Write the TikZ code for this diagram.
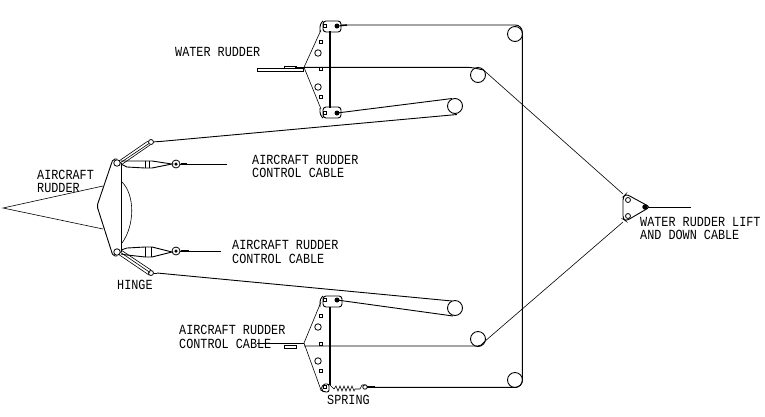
\documentclass[tikz,border=0pt]{standalone}
\usepackage{fontspec}
\usepackage{graphicx}
\setmonofont{Liberation Mono}
\newcommand{\lbtxt}[1]{\scalebox{1}[1.18]{#1}}
\begin{document}
\begin{tikzpicture}[x=1pt,y=-1pt,
  line/.style={draw=black,line width=0.9pt},
  thin line/.style={draw=black,line width=0.6pt},
  heavy/.style={draw=black,line width=1.8pt},
  pulley/.style={circle,draw=black,line width=0.9pt,minimum size=15pt,inner sep=0pt,outer sep=0pt},
  bigpulley/.style={pulley,minimum size=15pt},
  pin/.style={circle,draw=black,line width=0.8pt,minimum size=6.5pt,inner sep=0pt},
  dark/.style={circle,fill=black,minimum size=5pt,inner sep=0pt},
  sq/.style={rectangle,draw=black,line width=0.7pt,minimum size=3.5pt,inner sep=0pt},
  label/.style={font=\ttfamily\fontsize{11.8}{13}\selectfont,inner sep=0pt,anchor=west,text=black}]
\useasboundingbox[fill=white] (0,0) rectangle (765,416);

% pulleys
\node[pulley] (p1) at (515,34) {};
\node[bigpulley] (p2) at (478,75) {};
\node[bigpulley] (p3) at (455,106) {};
\node[bigpulley] (p4) at (455,308) {};
\node[bigpulley] (p5) at (478,339) {};
\node[pulley] (p6) at (515,380) {};

% long cable
\coordinate (tA) at (341,25);
\coordinate (tB) at (522.3,25);
\coordinate (tC) at (522.3,387.3);
\coordinate (tD) at (373,387.3);
\draw[line,rounded corners=7pt] (tA) -- (tB) -- (tC) -- (tD);

% top bracket
\coordinate (bt1) at (321,30);
\coordinate (bt2) at (304,67.3);
\coordinate (bt3) at (321,109);
\draw[thin line] (bt1) -- (bt2) -- (bt3);
\draw[line,rounded corners=3pt] (323,21) rectangle (341,32);
\draw[line,rounded corners=3pt] (320,32) -- (320,24) -- (323,21);
\draw[line,rounded corners=3pt] (323,107) rectangle (341,118);
\draw[line,rounded corners=3pt] (320,108) -- (320,115) -- (323,118);
\draw[heavy] (330,31) -- (330,108);
\node[sq] (a1) at (325,26) {};
\node[dark] (a2) at (337,26) {};
\draw[heavy,line width=1.4pt] (a2) -- (347,25);
\node[sq] (a3) at (321,42) {};
\node[pin] (a4) at (318,53) {};
\node[sq] (a5) at (321,69) {};
\node[pin] (a6) at (318,87) {};
\node[sq] (a7) at (321,97) {};
\node[sq] (a8) at (325,113) {};
\node[dark] (a9) at (337,113) {};
\draw[line,rounded corners=4pt] (bt2) -- (471,67.3) -- (483.5,70);
\draw[line] (257,68) rectangle (303,71);
\draw[line] (284,66) rectangle (296,68);
\draw[heavy,line width=1.4pt] (295,68) -- (304,68);

% top long arm
\coordinate (arm1) at (337,113);
\coordinate (arm2) at (452,98.5);
\draw[line] (arm1) -- (arm2);
\coordinate (arm3) at (160,141.5);
\coordinate (arm4) at (457,114.5);
\draw[line] (arm3) -- (arm4);

% lower long arm
\coordinate (arm5) at (157,273);
\coordinate (arm6) at (452,301);
\draw[line] (arm5) -- (arm6);
\coordinate (arm7) at (337,300);
\coordinate (arm8) at (453,316);
\draw[line] (arm7) -- (arm8);

% bottom bracket
\coordinate (bb1) at (321,302);
\coordinate (bb2) at (304,343);
\coordinate (bb3) at (321,390);
\draw[thin line] (bb1) -- (bb2) -- (bb3);
\draw[line,rounded corners=3pt] (323,296) rectangle (342,307);
\draw[line,rounded corners=3pt] (320,307) -- (320,299) -- (323,296);
\draw[line,rounded corners=2pt] (329,384) -- (323,384) -- (321,390) -- (324,392) -- (329,392) -- cycle;
\draw[heavy] (330,307) -- (330,385);
\node[sq] (b1) at (325,300) {};
\node[dark] (b2) at (337,300) {};
\node[sq] (b3) at (321,316) {};
\node[pin] (b4) at (318,327) {};
\node[sq] (b5) at (321,344) {};
\node[pin] (b6) at (318,361) {};
\node[sq] (b7) at (321,371) {};
\node[sq] (b8) at (325,387) {};
\coordinate (bh) at (304,346);
\draw[line,rounded corners=4pt] (bh) -- (482,346) -- (484,342);
\draw[heavy,line width=1.3pt] (257,343.5) -- (304,343.5);
\draw[line] (284,345) rectangle (296,348);

% spring
\coordinate (s1) at (334,389);
\coordinate (s2) at (355,389);
\draw[thin line] (330,385) -- (s1) -- (336,386) -- (338,391) -- (340,386) -- (342,391) -- (344,386) -- (346,391) -- (348,386) -- (350,391) -- (352,386) -- (354,391) -- (s2) -- (360,389) -- (362,385) -- (365,385);
\node[pin,minimum size=4.5pt] (s3) at (365,387) {};
\draw[heavy] (367,387.3) -- (375,387.3);

% water rudder lift
\coordinate (w1) at (623,194);
\coordinate (w2) at (623,222);
\coordinate (w3) at (650,207);
\draw[line,rounded corners=3pt] (623,197) -- (626,194) -- (w3) -- (626,221) -- (623,219) -- cycle;
\draw[thin line] (483.5,70) -- (w1);
\draw[thin line] (484,342) -- (w2);
\node[pin,minimum size=5pt] (w4) at (628,200) {};
\node[pin,minimum size=5pt] (w5) at (628,216) {};
\node[pin,minimum size=4.5pt,fill=black] (w6) at (645,207) {};
\coordinate (w7) at (691,207);
\draw[line] (w6) -- (w7);

% aircraft rudder
\coordinate (r0) at (3,208);
\coordinate (r1) at (103,186);
\coordinate (r2) at (103,229);
\draw[thin line] (r1) -- (r0) -- (r2);
\draw[line,rounded corners=2pt] (117,159) -- (113,159) -- (97,206) -- (113,256) -- (117,256);
\node[pin] (h1) at (117,163) {};
\node[pin] (h2) at (117,252) {};
\draw[line] (121,163) -- (121,252);
\draw[thin line] (122,182) .. controls (135,195) and (135,225) .. (122,243);

% upper arm + lower arm
\node[pin,minimum size=5pt] (e1) at (151,142) {};
\node[pin,minimum size=5pt] (e2) at (151,273) {};
\draw[thin line] (119,161) -- (148,141);
\draw[thin line] (120,163) -- (149,143.5);
\draw[thin line] (121,165) -- (150,145);
\draw[thin line] (118,254) -- (149,275);
\draw[thin line] (120,252) -- (150,272.5);
\draw[thin line] (121,250) -- (151,270);
\draw[line] (e1) -- (arm3);
\draw[line] (e2) -- (arm5);

% turnbuckles
\draw[line] (121,161) -- (127,161) -- (145,161) -- (152,161) -- (172,164) -- (152,168) -- (145,168) -- (127,167) -- (121,164);
\draw[line] (145,161) -- (145,168) (149,161) -- (149,168);
\draw[line] (121,250) -- (127,248) -- (145,247) -- (152,247) -- (172,252) -- (152,257) -- (145,257) -- (127,255) -- (121,254);
\draw[line] (145,247) -- (145,257) (151,247) -- (151,257);
\node[pin,minimum size=8pt] (t1) at (176,164) {};
\node[dark,minimum size=3.5pt] at (t1) {};
\node[pin,minimum size=8pt] (t2) at (176,251) {};
\node[dark,minimum size=3.5pt] at (t2) {};
\coordinate (t3) at (227,164);
\coordinate (t4) at (221,251);
\draw[line] (t1) -- (t3);
\draw[line] (t2) -- (t4);
\draw[line,line width=2pt] (181,164) -- (187,164);
\draw[line,line width=2pt] (181,251) -- (189,251);

% labels
\node[label] (l1) at (175,52) {\lbtxt{WATER RUDDER}};
\node[label] (l2) at (37,175) {\lbtxt{AIRCRAFT}};
\node[label] (l3) at (37,188) {\lbtxt{RUDDER}};
\node[label] (l4) at (252,160) {\lbtxt{AIRCRAFT RUDDER}};
\node[label] (l5) at (252,173) {\lbtxt{CONTROL CABLE}};
\node[label] (l6) at (232,245) {\lbtxt{AIRCRAFT RUDDER}};
\node[label] (l7) at (232,259) {\lbtxt{CONTROL CABLE}};
\node[label] (l8) at (179,330) {\lbtxt{AIRCRAFT RUDDER}};
\node[label] (l9) at (179,344) {\lbtxt{CONTROL CABLE}};
\node[label] (l10) at (640,222) {\lbtxt{WATER RUDDER LIFT}};
\node[label] (l11) at (640,235) {\lbtxt{AND DOWN CABLE}};
\node[label] (l12) at (117,285) {\lbtxt{HINGE}};
\node[label] (l13) at (327,400) {\lbtxt{SPRING}};
\end{tikzpicture}
\end{document}
